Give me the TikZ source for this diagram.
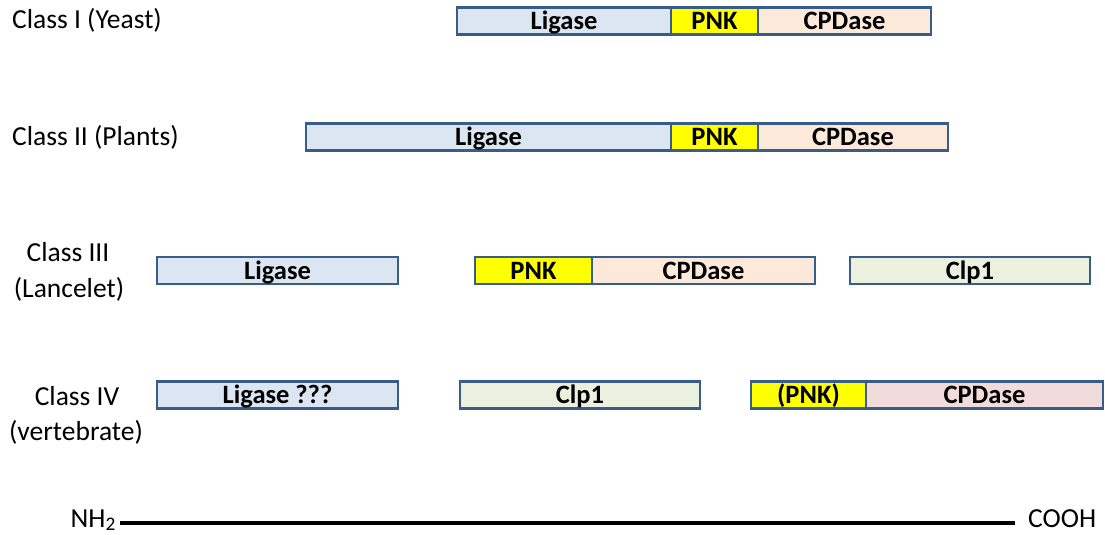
\documentclass[tikz,border=0pt]{standalone}
\usepackage{fontspec}
\setmainfont{Carlito}
\definecolor{edge}{RGB}{56,93,138}
\definecolor{ligfill}{RGB}{220,230,242}
\definecolor{pnkfill}{RGB}{255,255,0}
\definecolor{cpdfill}{RGB}{253,233,217}
\definecolor{cpdpink}{RGB}{242,220,219}
\definecolor{clpfill}{RGB}{235,241,222}
\tikzset{
  seg/.style={draw=edge, line width=2.4pt, rectangle, inner sep=0pt,
    minimum height=27pt, text height=17pt, text depth=0pt,
    font=\fontsize{26.5}{28}\selectfont\bfseries},
  lbl/.style={inner sep=0pt, font=\fontsize{27.5}{30}\selectfont},
}
\begin{document}
\begin{tikzpicture}[x=1pt,y=-1pt]
\useasboundingbox (0,0) rectangle (1105,535);
% Class I
\node[lbl, anchor=base west] (c1) at (12,29) {Class I (Yeast)};
\node[seg, fill=ligfill, minimum width=214pt] (l1) at (564,21) {Ligase};
\node[seg, fill=pnkfill, minimum width=87pt] (p1) at (714.5,21) {PNK};
\node[seg, fill=cpdfill, minimum width=173pt] (d1) at (844.5,21) {CPDase};
% Class II
\node[lbl, anchor=base west] (c2) at (12,145) {Class II (Plants)};
\node[seg, fill=ligfill, minimum width=365pt] (l2) at (488.5,137) {Ligase};
\node[seg, fill=pnkfill, minimum width=87pt] (p2) at (714.5,137) {PNK};
\node[seg, fill=cpdfill, minimum width=190pt] (d2) at (853,137) {CPDase};
% Class III
\node[lbl, anchor=base] (c3) at (68,261) {Class III};
\node[lbl, anchor=base] (c3b) at (69,297) {(Lancelet)};
\node[seg, fill=ligfill, minimum width=241pt] (l3) at (277.5,270.5) {Ligase};
\node[seg, fill=pnkfill, minimum width=117pt] (p3) at (533.5,270.5) {PNK};
\node[seg, fill=cpdfill, minimum width=223pt] (d3) at (703.5,270.5) {CPDase};
\node[seg, fill=clpfill, minimum width=240pt] (k3) at (970,270.5) {Clp1};
% Class IV
\node[lbl, anchor=base] (c4) at (77,405) {Class IV};
\node[lbl, anchor=base] (c4b) at (76,440) {(vertebrate)};
\node[seg, fill=ligfill, minimum width=241pt] (l4) at (277.5,395) {Ligase ???};
\node[seg, fill=clpfill, minimum width=240pt] (k4) at (580,395) {Clp1};
\node[seg, fill=pnkfill, minimum width=115pt] (p4) at (808.5,395) {(PNK)};
\node[seg, fill=cpdpink, minimum width=237pt] (d4) at (984.5,395) {CPDase};
% Chain direction: N terminus to C terminus
\node[lbl, anchor=base east] (nh) at (116,527) {NH\textsubscript{2}};
\node[lbl, anchor=base west] (co) at (1028,527) {COOH};
\coordinate (a) at (120,523);
\coordinate (b) at (1015,523);
\draw[line width=4pt] (a) -- (b);
\end{tikzpicture}
\end{document}
